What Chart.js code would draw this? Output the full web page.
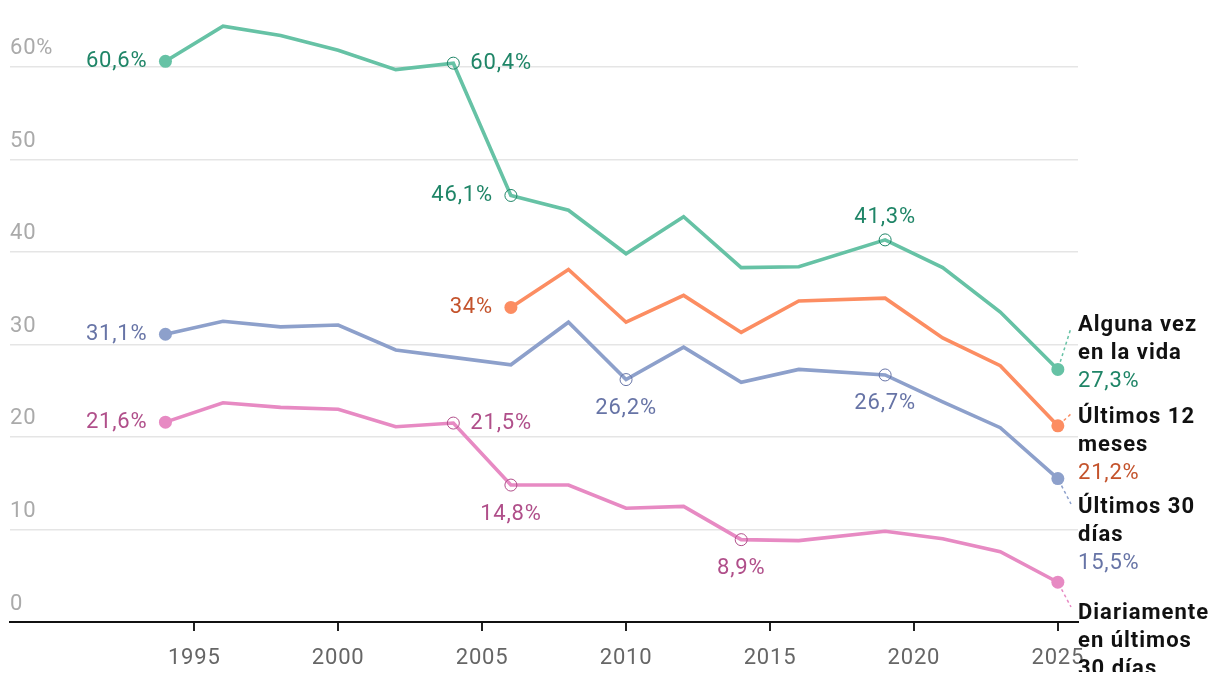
<!DOCTYPE html>
<html>
<head>
<meta charset="utf-8">
<script src="https://cdn.jsdelivr.net/npm/chart.js@4.4.1/dist/chart.umd.min.js"></script>
<style>
  html, body { margin: 0; padding: 0; background: #fff; }
  #wrap { width: 1220px; height: 682px; position: relative; }
</style>
</head>
<body>
<div id="wrap"><canvas id="chart"></canvas></div>
<script>
// survey years and shares (%)
const years = [1994, 1996, 1998, 2000, 2002, 2004, 2006, 2008, 2010, 2012, 2014, 2016, 2019, 2021, 2023, 2025];
const algunaVez = [60.6, 64.4, 63.4, 61.8, 59.7, 60.4, 46.1, 44.5, 39.8, 43.8, 38.3, 38.4, 41.3, 38.3, 33.5, 27.3];
const ultimos12 = [null, null, null, null, null, null, 34, 38.1, 32.4, 35.3, 31.3, 34.7, 35.0, 30.7, 27.7, 21.2];
const ultimos30 = [31.1, 32.5, 31.9, 32.1, 29.4, 28.6, 27.8, 32.4, 26.2, 29.7, 25.9, 27.3, 26.7, 23.8, 21.0, 15.5];
const diario = [21.6, 23.7, 23.2, 23.0, 21.1, 21.5, 14.8, 14.8, 12.3, 12.5, 8.9, 8.8, 9.8, 9.0, 7.6, 4.3];

const xTicks = [1995, 2000, 2005, 2010, 2015, 2020, 2025];
const yTicks = [0, 10, 20, 30, 40, 50, 60];

const seriesNames = [["Alguna vez", "en la vida"], ["Últimos 12", "meses"], ["Últimos 30", "días"], ["Diariamente", "en últimos", "30 días"]];
const seriesValues = [algunaVez, ultimos12, ultimos30, diario];

// styling
const lineColors = ["#66c2a5", "#fc8d62", "#8da0cb", "#e78ac3"];
const textColors = ["#1f8567", "#c4532c", "#6774a6", "#b04f8a"];
// highlighted points: [index, label side]
const notes = [
  [[0, "left"], [5, "right"], [6, "left"], [12, "above"]],
  [[6, "left"]],
  [[0, "left"], [8, "below"], [12, "below"]],
  [[0, "left"], [5, "right"], [6, "below"], [10, "below"]]
];
// right-hand legend block: first line centre y, connector end
const blockTop = [325, 417, 507, 613];
const connEnd = [[1071, 328], [1072, 413], [1071, 504], [1071, 607]];

const fmt = (v) => String(v).replace(".", ",") + "%";

const firstIdx = (vals) => vals.findIndex((v) => v !== null);

// text in the original is a touch wider than plain Roboto
const spacingPlugin = {
  id: "spacing",
  beforeDraw(chart) { chart.ctx.letterSpacing = "0.8px"; }
};

const labelPlugin = {
  id: "labels",
  afterDatasetsDraw(chart) {
    const ctx = chart.ctx;
    const xs = chart.scales.x;
    const ys = chart.scales.y;
    ctx.save();
    ctx.textBaseline = "middle";

    seriesValues.forEach((vals, si) => {
      ctx.font = "22px Roboto";
      ctx.letterSpacing = "0.8px";
      ctx.fillStyle = textColors[si];
      notes[si].forEach(([idx, side]) => {
        const px = xs.getPixelForValue(years[idx]);
        const py = ys.getPixelForValue(vals[idx]);
        const txt = fmt(vals[idx]);
        if (side === "left") {
          ctx.textAlign = "right";
          ctx.fillText(txt, px - 18, py);
        } else if (side === "right") {
          ctx.textAlign = "left";
          ctx.fillText(txt, px + 17, py);
        } else if (side === "above") {
          ctx.textAlign = "center";
          ctx.fillText(txt, px, py - 22);
        } else {
          ctx.textAlign = "center";
          ctx.fillText(txt, px, py + 29);
        }
      });

      // connector from last point to legend block
      const last = vals.length - 1;
      const lx = xs.getPixelForValue(years[last]);
      const ly = ys.getPixelForValue(vals[last]);
      const [ex, ey] = connEnd[si];
      const ang = Math.atan2(ey - ly, ex - lx);
      ctx.beginPath();
      ctx.setLineDash([3, 3]);
      ctx.lineWidth = 1.5;
      ctx.strokeStyle = lineColors[si];
      ctx.moveTo(lx + Math.cos(ang) * 8, ly + Math.sin(ang) * 8);
      ctx.lineTo(ex, ey);
      ctx.stroke();
      ctx.setLineDash([]);

      // legend block (the original box cuts off just below 672px)
      ctx.save();
      ctx.beginPath();
      ctx.rect(1070, 0, 150, 672);
      ctx.clip();
      ctx.textAlign = "left";
      let y = blockTop[si];
      ctx.font = "bold 22px Roboto";
      ctx.letterSpacing = "1px";
      ctx.fillStyle = "#111";
      seriesNames[si].forEach((line) => {
        ctx.fillText(line, 1078, y);
        y += 28;
      });
      ctx.font = "22px Roboto";
      ctx.letterSpacing = "0.8px";
      ctx.fillStyle = textColors[si];
      ctx.fillText(fmt(vals[last]), 1078, y);
      ctx.restore();
    });
    ctx.restore();
  }
};

const datasets = seriesValues.map((vals, si) => {
  const start = firstIdx(vals);
  const noted = notes[si].map((n) => n[0]);
  const isEnd = (i) => i === start || i === vals.length - 1;
  return {
    label: seriesNames[si].join(" "),
    data: years.map((yr, i) => ({ x: yr, y: vals[i] })),
    borderColor: lineColors[si],
    borderWidth: 3.6,
    tension: 0,
    spanGaps: false,
    pointRadius: (c) => (isEnd(c.dataIndex) ? 6.5 : noted.includes(c.dataIndex) ? 6 : 0),
    pointBackgroundColor: (c) => (isEnd(c.dataIndex) ? lineColors[si] : "rgba(0,0,0,0)"),
    pointBorderColor: (c) => (isEnd(c.dataIndex) ? lineColors[si] : textColors[si]),
    pointBorderWidth: (c) => (isEnd(c.dataIndex) ? 0 : 1),
    pointHoverRadius: 0
  };
});

new Chart(document.getElementById("chart"), {
  type: "line",
  data: { datasets },
  options: {
    responsive: true,
    maintainAspectRatio: false,
    animation: false,
    layout: { padding: { left: 10, right: 142, top: 0, bottom: 0 } },
    plugins: { legend: { display: false }, tooltip: { enabled: false } },
    scales: {
      x: {
        type: "linear",
        min: 1988.6,
        max: 2025.7,
        afterBuildTicks: (s) => { s.ticks = xTicks.map((v) => ({ value: v })); },
        afterFit: (s) => { s.height = 60; },
        grid: { drawOnChartArea: false, drawTicks: true, tickLength: 9, color: "#222", lineWidth: 2 },
        border: { display: true, color: "#111", width: 2 },
        ticks: {
          color: "#666",
          font: { family: "Roboto", size: 22 },
          padding: 14,
          maxRotation: 0,
          autoSkip: false,
          callback: (v) => String(v)
        }
      },
      y: {
        min: 0,
        max: 65.8,
        afterBuildTicks: (s) => { s.ticks = yTicks.map((v) => ({ value: v })); },
        grid: {
          drawTicks: false,
          color: (c) => (c.tick && c.tick.value === 0 ? "rgba(0,0,0,0)" : "#e5e5e5"),
          lineWidth: 1.5
        },
        border: { display: false },
        ticks: {
          mirror: true,
          padding: 0,
          labelOffset: -18,
          color: "#aaa",
          font: { family: "Roboto", size: 22 },
          callback: (v) => (v === 60 ? "60%" : String(v))
        }
      }
    }
  },
  plugins: [spacingPlugin, labelPlugin]
});
</script>
</body>
</html>
